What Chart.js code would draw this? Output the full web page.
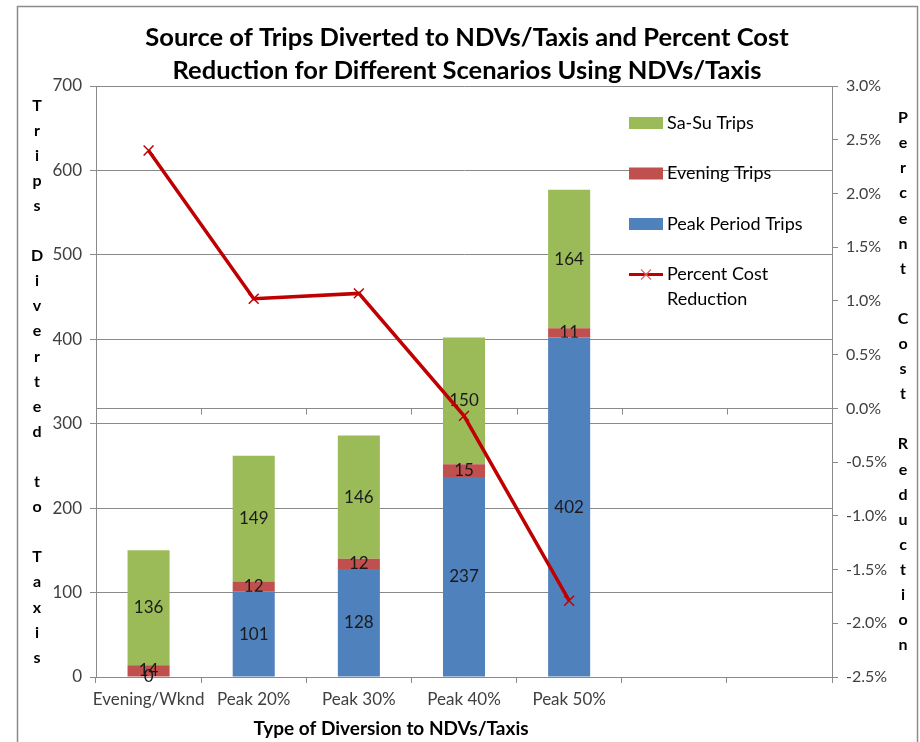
<!DOCTYPE html>
<html>
<head>
<meta charset="utf-8">
<script src="https://cdn.jsdelivr.net/npm/chart.js@4.4.1/dist/chart.umd.min.js"></script>
<style>
  html, body { margin: 0; padding: 0; background: #ffffff; }
  #wrap { width: 920px; height: 742px; }
</style>
</head>
<body>
<div id="wrap"><canvas id="chart" width="920" height="742"></canvas></div>
<script>
// scenarios on the category axis (two trailing empty slots)
var scenarios = ["Evening/Wknd", "Peak 20%", "Peak 30%", "Peak 40%", "Peak 50%", "", ""];

// trips diverted, by source
var peakTrips = [0, 101, 128, 237, 402, null, null];
var eveningTrips = [14, 12, 12, 15, 11, null, null];
var weekendTrips = [136, 149, 146, 150, 164, null, null];

// percent cost reduction (right axis)
var costReduction = [2.40, 1.02, 1.07, -0.07, -1.79, null, null];

var chartTitle = ["Source of Trips Diverted to NDVs/Taxis and Percent Cost",
                  "Reduction for Different Scenarios Using NDVs/Taxis"];
var xTitle = "Type of Diversion to NDVs/Taxis";
var leftTitle = "Trips Diverted to Taxis";
var rightTitle = "Percent Cost Reduction";

var FONT = "Lato, 'Open Sans', sans-serif";
var GRID = "#8a8a8a";
var TICK = "#404040";

// frame, titles and the secondary category axis at 0%
var decorPlugin = {
  id: "decor",
  beforeDraw: function (chart) {
    var ctx = chart.ctx;
    ctx.save();
    ctx.fillStyle = "#ffffff";
    ctx.fillRect(0, 0, chart.width, chart.height);
    ctx.strokeStyle = "#8c8c8c";
    ctx.lineWidth = 1.5;
    ctx.strokeRect(17.5, 6.5, 900, 800);
    ctx.restore();
  },
  beforeDatasetsDraw: function (chart) {
    var ctx = chart.ctx;
    var area = chart.chartArea;
    var y0 = Math.round(chart.scales.y1.getPixelForValue(0)) + 0.5;
    ctx.save();
    ctx.strokeStyle = GRID;
    ctx.lineWidth = 1;
    ctx.beginPath();
    ctx.moveTo(area.left, y0);
    ctx.lineTo(area.right, y0);
    var step = (area.right - area.left) / scenarios.length;
    for (var i = 1; i < scenarios.length; i++) {
      var bx = Math.round(area.left + i * step) + 0.5;
      ctx.moveTo(bx, y0);
      ctx.lineTo(bx, y0 + 6);
    }
    ctx.stroke();
    ctx.restore();
  },
  afterDraw: function (chart) {
    var ctx = chart.ctx;
    var area = chart.chartArea;
    ctx.save();
    ctx.fillStyle = "#000000";
    ctx.textAlign = "center";
    ctx.textBaseline = "middle";

    ctx.font = "bold 25.5px " + FONT;
    ctx.fillText(chartTitle[0], 467, 38);
    ctx.fillText(chartTitle[1], 467, 71);

    ctx.font = "bold 19px " + FONT;
    ctx.fillText(xTitle, 391, 729);

    // stacked-letter axis titles
    ctx.font = "bold 16px " + FONT;
    var mid = (area.top + area.bottom) / 2;
    var lh = 25.1;
    var start = mid - (leftTitle.length - 1) * lh / 2;
    for (var i = 0; i < leftTitle.length; i++) {
      ctx.fillText(leftTitle[i], 37, start + i * lh);
    }
    start = mid - (rightTitle.length - 1) * lh / 2;
    for (var j = 0; j < rightTitle.length; j++) {
      ctx.fillText(rightTitle[j], 903, start + j * lh);
    }

    // legend
    var items = [
      { color: "#9BBB59", text: ["Sa-Su Trips"] },
      { color: "#C0504D", text: ["Evening Trips"] },
      { color: "#4F81BD", text: ["Peak Period Trips"] },
      { line: "#C00000", text: ["Percent Cost", "Reduction"] }
    ];
    ctx.font = "18px " + FONT;
    ctx.textAlign = "left";
    items.forEach(function (it, k) {
      var cy = 123 + k * 50.5;
      if (it.color) {
        ctx.fillStyle = it.color;
        ctx.fillRect(629, cy - 6, 34, 12);
      } else {
        ctx.strokeStyle = it.line;
        ctx.lineWidth = 3;
        ctx.beginPath();
        ctx.moveTo(629, cy);
        ctx.lineTo(663, cy);
        ctx.stroke();
        ctx.strokeStyle = "#e06666";
        ctx.lineWidth = 1.2;
        ctx.beginPath();
        ctx.moveTo(641, cy - 5);
        ctx.lineTo(651, cy + 5);
        ctx.moveTo(651, cy - 5);
        ctx.lineTo(641, cy + 5);
        ctx.stroke();
      }
      ctx.fillStyle = "#000000";
      it.text.forEach(function (t, n) {
        ctx.fillText(t, 667, cy + n * 25);
      });
    });
    ctx.restore();
  }
};

// value labels centred in each bar segment
var barLabelPlugin = {
  id: "barLabels",
  afterDatasetDraw: function (chart, args) {
    var meta = args.meta;
    if (meta.type !== "bar") return;
    var ctx = chart.ctx;
    var data = chart.data.datasets[args.index].data;
    ctx.save();
    ctx.font = "17px " + FONT;
    ctx.fillStyle = "#1a1a1a";
    ctx.textAlign = "center";
    ctx.textBaseline = "middle";
    meta.data.forEach(function (el, i) {
      if (data[i] === null || data[i] === undefined) return;
      var p = el.getProps(["x", "y", "base"], true);
      ctx.fillText(String(data[i]), p.x, (p.y + p.base) / 2);
    });
    ctx.restore();
  }
};

new Chart(document.getElementById("chart"), {
  type: "bar",
  data: {
    labels: scenarios,
    datasets: [
      {
        type: "line",
        label: "Percent Cost Reduction",
        data: costReduction,
        yAxisID: "y1",
        borderColor: "#C00000",
        backgroundColor: "#C00000",
        borderWidth: 3.5,
        pointStyle: "crossRot",
        pointRadius: 7,
        pointBorderWidth: 1.5,
        pointBorderColor: "#C00000",
        tension: 0,
        fill: false,
        order: 0
      },
      { label: "Peak Period Trips", data: peakTrips, backgroundColor: "#4F81BD", yAxisID: "y", order: 1 },
      { label: "Evening Trips", data: eveningTrips, backgroundColor: "#C0504D", yAxisID: "y", order: 1 },
      { label: "Sa-Su Trips", data: weekendTrips, backgroundColor: "#9BBB59", yAxisID: "y", order: 1 }
    ]
  },
  options: {
    responsive: false,
    animation: false,
    devicePixelRatio: 1,
    layout: { padding: { left: 0, right: 0, top: 86, bottom: 0 } },
    datasets: {
      bar: { barPercentage: 0.4, categoryPercentage: 1, borderWidth: 0 }
    },
    plugins: {
      legend: { display: false },
      title: { display: false },
      tooltip: { enabled: false }
    },
    scales: {
      x: {
        stacked: true,
        offset: true,
        afterFit: function (s) { s.height = 65; },
        grid: {
          offset: true,
          drawOnChartArea: false,
          drawTicks: true,
          tickLength: 6,
          color: GRID
        },
        border: { color: GRID },
        ticks: {
          color: TICK,
          font: { family: FONT, size: 17 },
          padding: 6,
          maxRotation: 0,
          autoSkip: false
        }
      },
      y: {
        stacked: true,
        position: "left",
        min: 0,
        max: 700,
        afterFit: function (s) { s.width = 96; },
        grid: { color: GRID, tickLength: 6 },
        border: { color: GRID },
        ticks: {
          stepSize: 100,
          color: TICK,
          padding: 8,
          font: { family: FONT, size: 17 }
        }
      },
      y1: {
        position: "right",
        min: -2.5,
        max: 3.0,
        afterFit: function (s) { s.width = 88; },
        grid: { drawOnChartArea: false, tickLength: 6, color: GRID },
        border: { color: GRID },
        ticks: {
          stepSize: 0.5,
          color: TICK,
          padding: 8,
          font: { family: FONT, size: 16 },
          callback: function (v) { return v.toFixed(1) + "%"; }
        }
      }
    }
  },
  plugins: [decorPlugin, barLabelPlugin]
});
</script>
</body>
</html>
